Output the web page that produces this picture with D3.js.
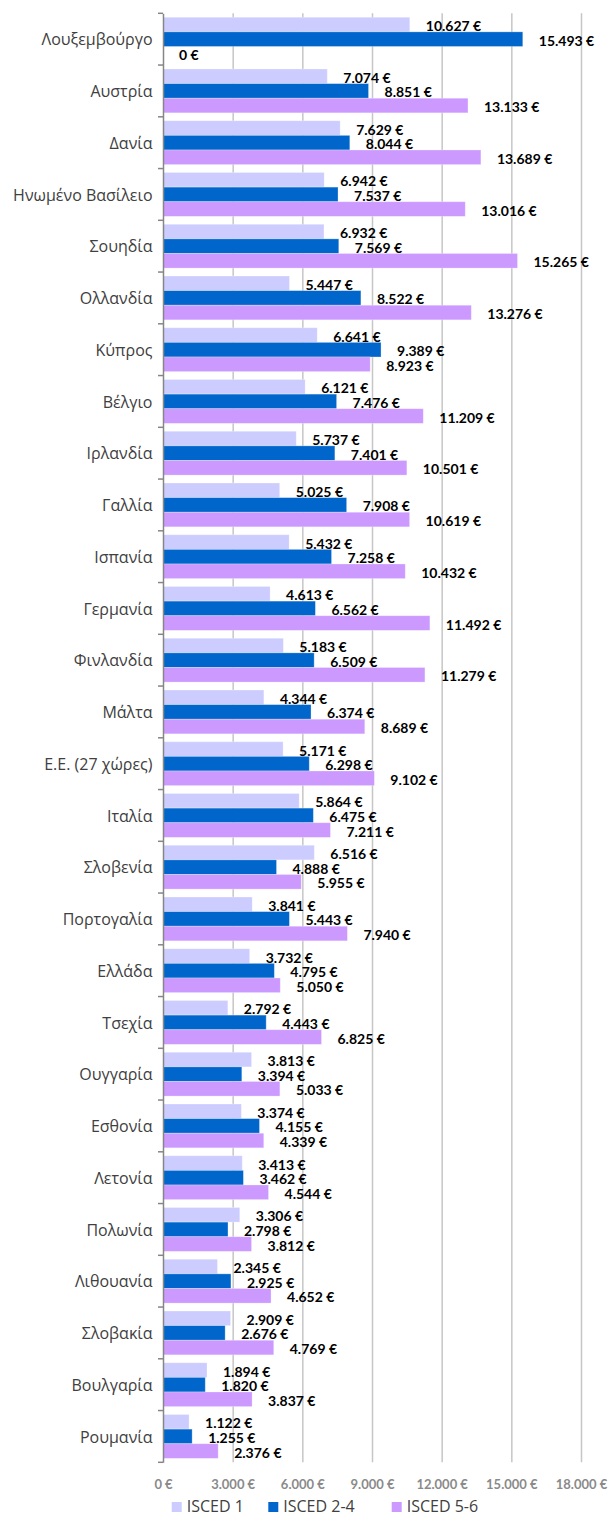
<!DOCTYPE html>
<html>
<head>
<meta charset="utf-8">
<script src="https://cdn.jsdelivr.net/npm/d3@7"></script>
<style>
  html, body { margin: 0; padding: 0; background: #fff; }
  svg { display: block; }
</style>
</head>
<body>
<svg id="chart" width="611" height="1516"></svg>
<script>
// Categories (top to bottom)
var countries = ["Λουξεμβούργο", "Αυστρία", "Δανία", "Ηνωμένο Βασίλειο", "Σουηδία", "Ολλανδία",
  "Κύπρος", "Βέλγιο", "Ιρλανδία", "Γαλλία", "Ισπανία", "Γερμανία", "Φινλανδία", "Μάλτα",
  "Ε.Ε. (27 χώρες)", "Ιταλία", "Σλοβενία", "Πορτογαλία", "Ελλάδα", "Τσεχία", "Ουγγαρία",
  "Εσθονία", "Λετονία", "Πολωνία", "Λιθουανία", "Σλοβακία", "Βουλγαρία", "Ρουμανία"];

// Series values
var isced1 = [10627, 7074, 7629, 6942, 6932, 5447, 6641, 6121, 5737, 5025, 5432, 4613, 5183, 4344,
  5171, 5864, 6516, 3841, 3732, 2792, 3813, 3374, 3413, 3306, 2345, 2909, 1894, 1122];
var isced24 = [15493, 8851, 8044, 7537, 7569, 8522, 9389, 7476, 7401, 7908, 7258, 6562, 6509, 6374,
  6298, 6475, 4888, 5443, 4795, 4443, 3394, 4155, 3462, 2798, 2925, 2676, 1820, 1255];
var isced56 = [0, 13133, 13689, 13016, 15265, 13276, 8923, 11209, 10501, 10619, 10432, 11492, 11279, 8689,
  9102, 7211, 5955, 7940, 5050, 6825, 5033, 4339, 4544, 3812, 4652, 4769, 3837, 2376];

var seriesNames = ["ISCED 1", "ISCED 2-4", "ISCED 5-6"];
var seriesColors = ["#ccccff", "#0066cc", "#cc99ff"];
var xTicks = [0, 3000, 6000, 9000, 12000, 15000, 18000];

var allSeries = [isced1, isced24, isced56];

var svg = d3.select("#chart");

var locale = d3.formatLocale({decimal: ",", thousands: ".", grouping: [3], currency: ["", " €"]});
var euro = locale.format("$,.0f");

var x = d3.scaleLinear().domain([0, 18000]).range([163, 581]);
var y0 = d3.scaleBand().domain(countries).range([13.3, 1462.3]).paddingInner(0).paddingOuter(0);
var y1 = d3.scaleBand().domain(seriesNames).range([0, y0.bandwidth()]).paddingInner(0).paddingOuter(0.27);

var plotTop = y0.range()[0], plotBottom = y0.range()[1];

// gridlines + bottom tick labels
var xAxis = d3.axisBottom(x)
  .tickValues(xTicks)
  .tickSize(-(plotBottom - plotTop))
  .tickSizeOuter(0)
  .tickPadding(17)
  .tickFormat(euro);

var gx = svg.append("g")
  .attr("transform", "translate(0," + plotBottom + ")")
  .call(xAxis);
gx.select(".domain").remove();
gx.selectAll(".tick line")
  .attr("stroke", "#c6c6c6")
  .attr("stroke-width", 1.5)
  .filter(function(d) { return d === 0; }).remove();
gx.selectAll(".tick text")
  .attr("y", 17)
  .attr("fill", "#8a8a8a")
  .style("font-family", "Lato, 'Open Sans', sans-serif")
  .style("font-weight", "bold")
  .style("font-size", "13px");

// bars
var groups = svg.append("g").selectAll("g")
  .data(countries)
  .join("g")
  .attr("transform", function(d) { return "translate(0," + y0(d) + ")"; });

groups.selectAll("rect")
  .data(function(c, i) { return seriesNames.map(function(s, k) { return {s: s, k: k, v: allSeries[k][i]}; }); })
  .join("rect")
  .attr("x", x(0))
  .attr("y", function(d) { return y1(d.s); })
  .attr("width", function(d) { return x(d.v) - x(0); })
  .attr("height", y1.bandwidth())
  .attr("fill", function(d) { return seriesColors[d.k]; })
  .attr("stroke", function(d) { return d.v > 0 ? "rgba(255,255,255,0.35)" : "none"; })
  .attr("stroke-width", 0.8);

// value labels
groups.selectAll("text.val")
  .data(function(c, i) { return seriesNames.map(function(s, k) { return {s: s, k: k, v: allSeries[k][i]}; }); })
  .join("text")
  .attr("class", "val")
  .attr("x", function(d) { return x(d.v) + 16; })
  .attr("y", function(d) { return y1(d.s) + y1.bandwidth() / 2 + 1; })
  .attr("dominant-baseline", "central")
  .attr("fill", "#000")
  .style("font-family", "Lato, 'Open Sans', sans-serif")
  .style("font-weight", "bold")
  .style("font-size", "14px")
  .text(function(d) { return euro(d.v); });

// left axis: line, boundary ticks, labels
var yAxis = d3.axisLeft(y0).tickSize(0).tickPadding(10.5);
var gy = svg.append("g")
  .attr("transform", "translate(" + x(0) + ",0)")
  .call(yAxis);
gy.select(".domain").attr("stroke", "#868686").attr("stroke-width", 1.5);
gy.selectAll(".tick text")
  .attr("fill", "#404040")
  .attr("dy", "0.38em")
  .style("font-family", "'Open Sans', 'Noto Sans', sans-serif")
  .style("font-size", "16px");

var bounds = countries.map(function(c) { return y0(c); }).concat([plotBottom]);
gy.selectAll("line.bound")
  .data(bounds)
  .join("line")
  .attr("class", "bound")
  .attr("x1", -5).attr("x2", 0)
  .attr("y1", function(d) { return d; }).attr("y2", function(d) { return d; })
  .attr("stroke", "#868686")
  .attr("stroke-width", 1.5);

// legend
var legendX = [171.7, 268.3, 391.7];
var legend = svg.append("g").selectAll("g")
  .data(seriesNames)
  .join("g")
  .attr("transform", function(d, i) { return "translate(" + legendX[i] + ",1502)"; });
legend.append("rect")
  .attr("width", 10).attr("height", 10)
  .attr("fill", function(d, i) { return seriesColors[i]; });
legend.append("text")
  .attr("x", 15).attr("y", 10)
  .attr("fill", "#404040")
  .style("font-family", "'Open Sans', 'Noto Sans', sans-serif")
  .style("font-size", "16px")
  .text(function(d) { return d; });
</script>
</body>
</html>
